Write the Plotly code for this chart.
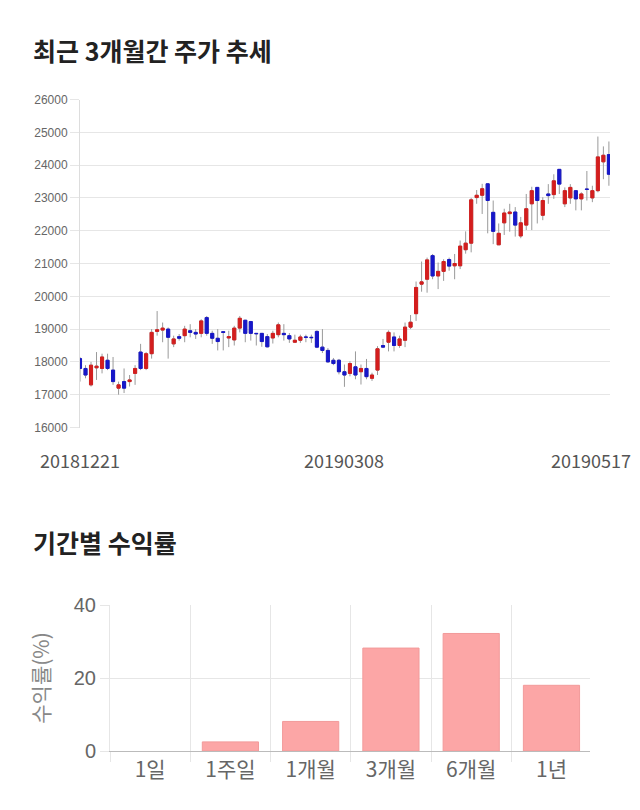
import plotly.graph_objects as go
import pandas as pd

# ---------------- data ----------------
holidays = ['2018-12-25', '2018-12-31', '2019-01-01', '2019-02-04', '2019-02-05',
            '2019-02-06', '2019-03-01', '2019-05-01', '2019-05-06']
dates = [d.strftime('%Y%m%d') for d in pd.bdate_range('2018-12-21', '2019-05-17')
         if d.strftime('%Y-%m-%d') not in holidays]

opens = [18100, 17800, 17300, 17820, 17800, 18050, 17750, 17200, 17400, 17400,
         17650, 18300, 17800, 18250, 18930, 18970, 19000, 18550, 18770, 18800,
         18950, 18900, 18870, 19350, 18870, 18720, 18920, 18730, 18670, 19030,
         19270, 19230, 18870, 18870, 18770, 18730, 18830, 18870, 18800, 18600,
         18660, 18760, 18750, 18930, 18450, 18350, 18050, 18050, 17700, 17650,
         17850, 17700, 17800, 17500, 17750, 18500, 18600, 18760, 18500, 18660,
         19060, 19470, 20370, 20520, 21240, 20620, 20760, 21120, 20930, 20930,
         21420, 21620, 23010, 23080, 23430, 22560, 21570, 22240, 22520, 22570,
         21840, 22170, 22820, 23320, 22470, 23120, 23100, 23870, 22820, 23000,
         23220, 22970, 23270, 23000, 23220, 24100, 24320]
highs = [18150, 17900, 18000, 18300, 18250, 18250, 18150, 17400, 17800, 17600,
         17900, 18550, 18300, 19000, 19550, 19200, 19050, 18800, 18850, 19100,
         19150, 19000, 19300, 19400, 18950, 19000, 18930, 18950, 19100, 19400,
         19280, 19250, 18880, 18880, 18850, 18950, 19200, 19150, 18880, 18830,
         18830, 18830, 18830, 18960, 19000, 18420, 18120, 18090, 17920, 18020,
         18320, 17920, 18090, 17670, 18480, 18700, 18960, 18900, 18800, 19200,
         19430, 20450, 21060, 21180, 21290, 21030, 21130, 21180, 21290, 21700,
         21980, 23000, 23240, 23430, 23450, 22920, 22220, 22670, 22820, 22720,
         22420, 23120, 23340, 23330, 23020, 23420, 23720, 23880, 23320, 23420,
         23230, 23170, 23820, 23370, 24870, 24570, 24720]
lows = [17400, 17500, 17250, 17450, 17650, 17750, 17300, 17000, 17050, 17250,
        17300, 17750, 17750, 18100, 18800, 18600, 18100, 18450, 18650, 18600,
        18750, 18700, 18750, 18800, 18550, 18350, 18350, 18450, 18500, 18900,
        18600, 18650, 18500, 18460, 18440, 18560, 18750, 18650, 18580, 18580,
        18580, 18600, 18580, 18420, 18270, 17980, 17900, 17620, 17240, 17560,
        17470, 17310, 17470, 17420, 17600, 18420, 18320, 18320, 18430, 18450,
        19000, 19250, 20140, 20110, 20520, 20220, 20470, 20780, 20520, 20830,
        21300, 21340, 22820, 22510, 21920, 21590, 21570, 21870, 21970, 21820,
        21770, 22020, 22020, 22220, 22320, 22820, 22970, 23120, 22720, 22820,
        22620, 22620, 22920, 22870, 23170, 23570, 23370]
closes = [17800, 17600, 17900, 17870, 18150, 17800, 17400, 17300, 17200, 17450,
          17800, 17800, 18250, 18900, 18980, 19030, 18750, 18700, 18720, 19000,
          18900, 18850, 19250, 18870, 18720, 18620, 18900, 18770, 19030, 19330,
          18870, 18870, 18860, 18620, 18460, 18870, 19130, 18830, 18700, 18660,
          18760, 18750, 18740, 18450, 18350, 18000, 17950, 17700, 17600, 17950,
          17600, 17800, 17550, 17600, 18400, 18450, 18900, 18500, 18700, 19060,
          19210, 20270, 20440, 21110, 20620, 20760, 21060, 20920, 21000, 21530,
          21620, 22940, 23080, 23280, 22920, 21980, 21920, 22540, 22570, 22170,
          22240, 22670, 23220, 22920, 22920, 23070, 23520, 23420, 23220, 23320,
          22970, 23120, 23260, 23220, 24250, 24300, 23720]

tick_dates = ['20181221', '20190308', '20190517']

periods = ['1일', '1주일', '1개월', '3개월', '6개월', '1년']
returns = [0.0, 2.5, 8.1, 28.2, 32.2, 18.0]

# ---------------- style ----------------
W, H = 640, 810
RED, BLUE, WICK = '#D41E1E', '#1717C9', '#9A9A9A'
GRID = '#E6E6E6'
KFONT = 'Noto Sans CJK KR'


def fx(p):
    return p / W


def fy(p):
    return 1 - p / H


body_hi = [max(o, c) for o, c in zip(opens, closes)]
body_lo = [min(o, c) for o, c in zip(opens, closes)]

fig = go.Figure()
# wicks (grey)
fig.add_trace(go.Candlestick(
    x=dates, open=opens, high=highs, low=lows, close=closes,
    increasing=dict(line=dict(color=WICK, width=1), fillcolor=WICK),
    decreasing=dict(line=dict(color=WICK, width=1), fillcolor=WICK),
    whiskerwidth=0, showlegend=False, hoverinfo='skip', xaxis='x', yaxis='y'))
# bodies (red / blue)
fig.add_trace(go.Candlestick(
    x=dates, open=opens, high=body_hi, low=body_lo, close=closes,
    increasing=dict(line=dict(color=RED, width=1), fillcolor=RED),
    decreasing=dict(line=dict(color=BLUE, width=1), fillcolor=BLUE),
    whiskerwidth=0, showlegend=False, hoverinfo='skip', xaxis='x', yaxis='y'))

# returns bars
fig.add_trace(go.Bar(
    x=periods, y=returns, width=0.7,
    marker=dict(color='#FCA6A6',
                line=dict(color='#F29A9A', width=[1 if v > 0 else 0 for v in returns])),
    showlegend=False, hoverinfo='skip', xaxis='x2', yaxis='y2'))

annotations = [
    dict(text='<b>최근 3개월간 주가 추세</b>', x=fx(31), y=fy(50), xref='paper', yref='paper',
         xanchor='left', yanchor='middle', showarrow=False,
         font=dict(family=KFONT, size=25, color='#222222')),
    dict(text='<b>기간별 수익률</b>', x=fx(31), y=fy(542), xref='paper', yref='paper',
         xanchor='left', yanchor='middle', showarrow=False,
         font=dict(family=KFONT, size=25, color='#222222')),
]
for i, t in enumerate(tick_dates):
    last = i == len(tick_dates) - 1
    annotations.append(dict(
        text=t, x=dates.index(t), xref='x', y=fy(460), yref='paper',
        xanchor='right' if last else 'center', xshift=24 if last else 0,
        yanchor='middle', showarrow=False,
        font=dict(family=KFONT, size=18, color='#555555')))

fig.update_layout(
    width=W, height=H, margin=dict(l=0, r=0, t=0, b=0),
    paper_bgcolor='white', plot_bgcolor='white',
    boxgap=0.2, boxmode='overlay', bargap=0.3,
    annotations=annotations,
    xaxis=dict(domain=[fx(80), fx(610)], type='category', range=[0, 96.2],
               rangeslider=dict(visible=False), showgrid=False, showticklabels=False,
               ticks='', zeroline=False, showline=False, anchor='y', automargin=False),
    yaxis=dict(domain=[fy(427.5), fy(99.5)], range=[16000, 26000], dtick=1000,
               tickformat='d', showgrid=True, gridcolor=GRID, gridwidth=1,
               ticks='outside', ticklen=9, tickcolor=GRID,
               tickfont=dict(family='Liberation Sans, Arial', size=12, color='#666666'),
               showline=True, linecolor='#DDDDDD', linewidth=1, zeroline=False,
               anchor='x', automargin=False),
    xaxis2=dict(domain=[fx(110), fx(590)], type='category', anchor='y2',
                range=[-0.5, 5.48],
                tickson='boundaries', showgrid=True, gridcolor=GRID,
                ticks='outside', ticklen=10, tickcolor=GRID,
                tickfont=dict(family=KFONT, size=21, color='#666666'),
                showline=True, linecolor='#BBBBBB', linewidth=1, automargin=False),
    yaxis2=dict(domain=[fy(751), fy(605)], range=[0, 40], tickvals=[0, 20, 40],
                showgrid=True, gridcolor=GRID, ticks='outside', ticklen=9, tickcolor=GRID,
                tickfont=dict(family='Liberation Sans, Arial', size=20, color='#666666'),
                showline=True, linecolor=GRID, zeroline=False, anchor='x2',
                title=dict(text='수익률(%)', standoff=18,
                           font=dict(family=KFONT, size=21, color='#888888')),
                automargin=False),
)

fig.write_html('out.html')
